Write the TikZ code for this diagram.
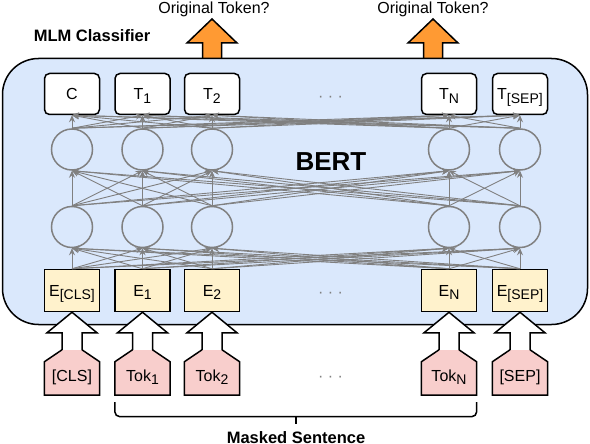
\documentclass[tikz,border=0pt]{standalone}
\usepackage{fontspec}
\setmainfont{Liberation Sans}
\usetikzlibrary{arrows.meta,calc}
\definecolor{bertblue}{HTML}{DAE8FC}
\definecolor{eyellow}{HTML}{FFF2CC}
\definecolor{tokpink}{HTML}{F8CECC}
\definecolor{outorange}{RGB}{255,154,51}
\definecolor{netgrey}{RGB}{128,128,128}
\newcommand\sbs[1]{\raisebox{-3.5pt}{\fontsize{14}{14}\selectfont #1}}
\begin{document}
\begin{tikzpicture}[x=1pt,y=-1pt,
  every node/.style={font=\fontsize{16}{19}\selectfont},
  tbox/.style={draw,line width=1.5pt,rounded corners=5pt,fill=white,minimum width=55pt,minimum height=41pt,inner sep=0pt,text height=11.5pt,text depth=0pt},
  ebox/.style={draw,line width=1.5pt,fill=eyellow,minimum width=55pt,minimum height=42pt,inner sep=0pt,text height=11.5pt,text depth=0pt},
  tokbody/.style={minimum width=55pt,minimum height=33pt,inner sep=0pt,text height=11.5pt,text depth=6pt},
  neuron/.style={circle,draw=netgrey,line width=1.5pt,minimum size=41pt,inner sep=0pt},
  conn/.style={draw=netgrey,line width=0.9pt,-{Stealth[length=7pt,width=6pt]}},
  dotstxt/.style={text=netgrey,anchor=base},
  qtext/.style={text height=11.5pt,text depth=0pt,inner sep=0pt},
  outarrow/.style={fill=outorange,draw,line width=1.5pt,line join=miter},
  inarrow/.style={fill=white,draw,line width=1.5pt,line join=miter},
  tokshape/.style={fill=tokpink,draw,line width=1.5pt,line join=miter},
  bracestyle/.style={draw,line width=1.5pt,rounded corners=5pt},
]
\useasboundingbox (0,0) rectangle (590,444);
% output arrows (drawn before the box so its border stays on top)
\coordinate (a1) at (212,58.5);
\coordinate (a2) at (433,58.5);
\node[qtext] (q1) at (214,8) {Original Token?};
\node[qtext] (q2) at (433,8) {Original Token?};
\foreach \a in {a1,a2}{
  \path[outarrow] ($(\a)+(-9.5,0)$) -- ($(\a)+(-9.5,-15.5)$) -- ($(\a)+(-25,-15.5)$) -- ($(\a)+(0,-39.5)$)
     -- ($(\a)+(25,-15.5)$) -- ($(\a)+(9.5,-15.5)$) -- ($(\a)+(9.5,0)$);
}
% main box
\node[draw,line width=1.5pt,fill=bertblue,rounded corners=36pt,minimum width=585pt,minimum height=266pt,inner sep=0pt] (bert) at (295,191.5) {};
\node[font=\bfseries\fontsize{16.5}{20}\selectfont,text height=11.8pt,text depth=0pt,inner sep=0pt] (mlm) at (92,36) {MLM Classifier};
\node[font=\bfseries\fontsize{26}{30}\selectfont,inner sep=0pt] (bertlbl) at (331,162) {BERT};
% columns
\foreach \i/\x/\tl/\el in {1/72/C/E\sbs{[CLS]}, 2/142.5/T\sbs{1}/E\sbs{1}, 3/212/T\sbs{2}/E\sbs{2}, 4/449/T\sbs{N}/E\sbs{N}, 5/520/T\sbs{[SEP]}/E\sbs{[SEP]}}{
  \node[tbox] (t\i) at (\x,94) {\tl};
  \node[neuron] (u\i) at (\x,149.5) {};
  \node[neuron] (l\i) at (\x,227) {};
  \node[ebox] (e\i) at (\x,290.5) {\el};
  \node[tokbody] (k\i) at (\x,378.5) {};
}
% connections
\foreach \i in {1,...,5}{
  \foreach \j in {1,...,5}{
    \draw[conn] (e\i.north) -- (l\j.south);
    \draw[conn] (l\i.north) -- (u\j.south);
    \draw[conn] (u\i.north) -- (t\j.south);
  }
}
% token shapes with input arrows
\foreach \i in {1,...,5}{
  \path[tokshape] ($(k\i.north)+(10,-12)$) -- (k\i.north east) -- (k\i.south east) -- (k\i.south west) -- (k\i.north west) -- ($(k\i.north)+(-10,-12)$);
  \path[inarrow] ($(k\i.north)+(-10,-12)$) -- ($(k\i.north)+(-10,-29)$) -- ($(k\i.north)+(-25,-29)$) -- (e\i.south)
     -- ($(k\i.north)+(25,-29)$) -- ($(k\i.north)+(10,-29)$) -- ($(k\i.north)+(10,-12)$);
}
\foreach \i/\tx in {1/[CLS], 2/Tok\sbs{1}, 3/Tok\sbs{2}, 4/Tok\sbs{N}, 5/[SEP]}{
  \node[tokbody] (kt\i) at (k\i.center) {\tx};
}
% dots
\node[dotstxt] (d1) at (330.5,101.5) {· · ·};
\node[dotstxt] (d2) at (330.5,297.5) {· · ·};
\node[dotstxt] (d3) at (330.5,381) {· · ·};
% brace and caption
\node[font=\bfseries\fontsize{16.5}{20}\selectfont,text height=11.8pt,text depth=0pt,inner sep=0pt] (ms) at (296,437.8) {Masked Sentence};
\coordinate (bl) at ($(k2.south west)+(0,7)$);
\coordinate (br) at ($(k4.south east)+(0,7)$);
\coordinate (bm) at ($(ms.north)+(0,-8)$);
\coordinate (bh) at ($(bm)+(0,-7)$);
\draw[bracestyle] (bl) |- (bh) -| (br);
\draw[line width=1.5pt] (bh) -- (bm);
\end{tikzpicture}
\end{document}
